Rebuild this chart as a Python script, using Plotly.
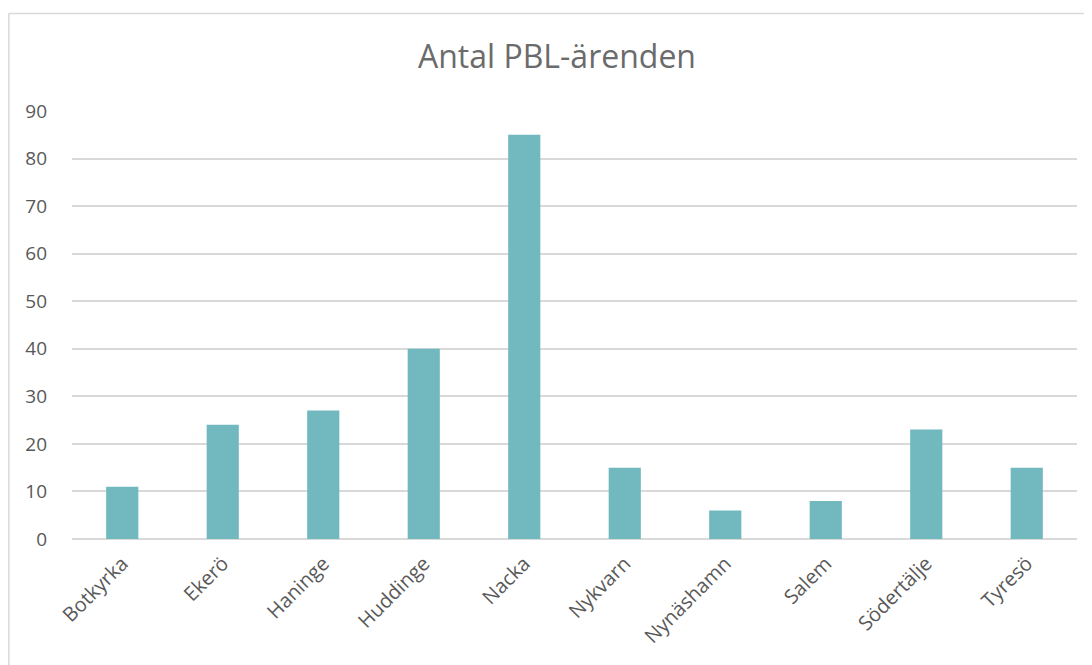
import plotly.graph_objects as go

categories = ["Botkyrka", "Ekerö", "Haninge", "Huddinge", "Nacka", "Nykvarn",
              "Nynäshamn", "Salem", "Södertälje", "Tyresö"]
values = [11, 24, 27, 40, 85, 15, 6, 8, 23, 15]
y_ticks = [0, 10, 20, 30, 40, 50, 60, 70, 80, 90]

# page body has an 8px margin, so the figure is drawn 8px in from the window edge
W, H = 1084, 657
ml, mr, mt, mb = 64, 15, 103, 126

fig = go.Figure(go.Bar(
    x=categories, y=values,
    marker=dict(color="#71B9BF", line=dict(width=0)),
))

pw = W - ml - mr
ph = H - mt - mb
# chart border (left & top edges visible)
x0 = (0.8 - ml) / pw
y1 = (H - mb - 5.5) / ph
fig.add_shape(type="line", xref="paper", yref="paper", x0=x0, x1=x0, y0=-1, y1=y1,
              line=dict(color="#D9D9D9", width=1.5))
fig.add_shape(type="line", xref="paper", yref="paper", x0=x0, x1=2, y0=y1, y1=y1,
              line=dict(color="#D9D9D9", width=1.5))

fig.update_layout(
    width=W, height=H,
    margin=dict(l=ml, r=mr, t=mt, b=mb, autoexpand=False),
    paper_bgcolor="white", plot_bgcolor="white",
    font=dict(family="Open Sans", color="#595959", size=19),
    title=dict(text="Antal PBL-ärenden", x=(557 - 8 - ml) / pw, xref="paper", xanchor="center",
               y=1 - 49 / H, yanchor="middle",
               font=dict(size=32, color="#6b6b6b", family="Open Sans")),
    bargap=0.68,
    showlegend=False,
    xaxis=dict(showgrid=False, showline=False, ticks="", tickangle=-45,
               ticklabelstandoff=8,
               tickfont=dict(size=20, color="#595959")),
    yaxis=dict(range=[0, 90], tickvals=y_ticks, showgrid=True, gridcolor="#D9D9D9", gridwidth=1.5,
               zeroline=True, zerolinecolor="#D9D9D9", zerolinewidth=1.5,
               showline=False, ticks="", ticklabelstandoff=24,
               tickfont=dict(size=19, color="#595959")),
)

fig.write_html("out.html")
